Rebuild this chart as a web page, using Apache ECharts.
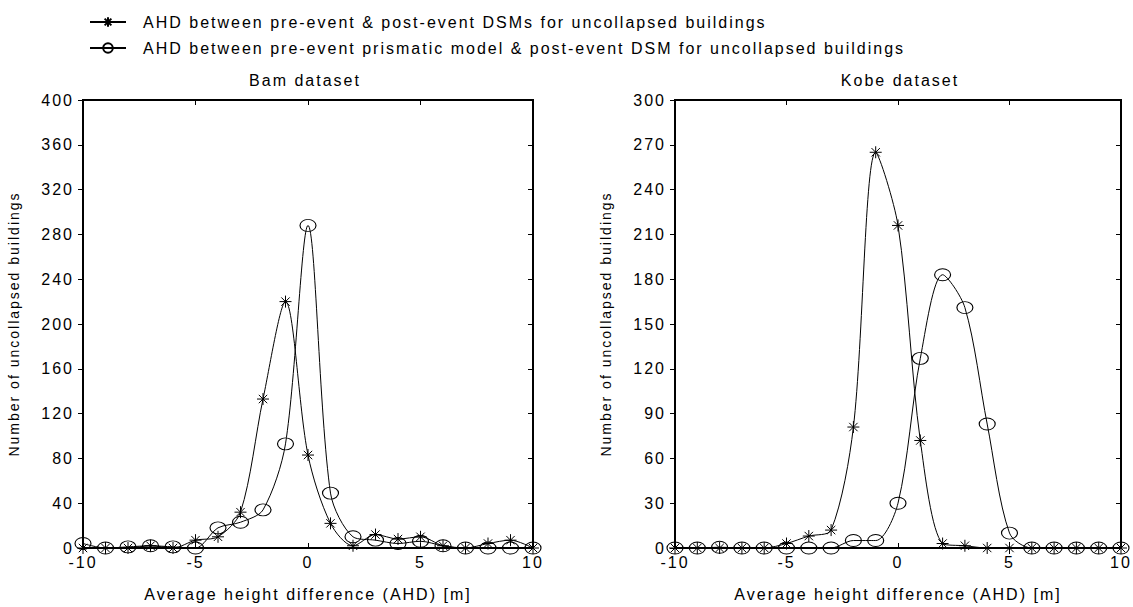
<!DOCTYPE html>
<html>
<head>
<meta charset="utf-8">
<script src="https://cdn.jsdelivr.net/npm/echarts@6/dist/echarts.min.js"></script>
<style>
html, body { margin: 0; padding: 0; background: #fff; }
#main { width: 1133px; height: 607px; }
#main text { letter-spacing: 2px; }
</style>
</head>
<body>
<div id="main"></div>
<script>
// AHD bins (m)
var ahd = [-10,-9,-8,-7,-6,-5,-4,-3,-2,-1,0,1,2,3,4,5,6,7,8,9,10];

// Bam dataset
var bamDsm   = [0,0,0,2,0,7,10,32,133,220,83,22,2,12,8,10,2,0,4,7,0];
var bamPrism = [4,0,1,2,1,0,18,23,34,93,288,49,10,7,4,6,2,0,0,0,0];

// Kobe dataset
var kobeDsm   = [0,0,0,0,0,3,8,12,81,265,216,72,3,1.5,0,0,0,0,0,0,0];
var kobePrism = [0,0,0.5,0,0,0,0,0,5,5,30,127,183,161,83,10,0,0,0,0,0];

var nameDsm = "AHD between pre-event & post-event DSMs for uncollapsed buildings";
var namePrism = "AHD between pre-event prismatic model & post-event DSM for uncollapsed buildings";

var FONT = "'Liberation Sans', Arial, sans-serif";
var starSym = "path://M0,-6L0,6M-6,0L6,0M-4.2,-4.2L4.2,4.2M-4.2,4.2L4.2,-4.2";
var ellSym = "path://M-8,0A8,6 0 1,0 8,0A8,6 0 1,0 -8,0Z";

function pairs(ys) {
    return ahd.map(function (x, i) { return [x, ys[i]]; });
}

function mkSeries(name, ys, idx, star) {
    return {
        name: name,
        type: "line",
        xAxisIndex: idx * 2,
        yAxisIndex: idx * 2,
        data: pairs(ys),
        smooth: 0.3,
        symbol: star ? starSym : ellSym,
        symbolSize: star ? [12, 12] : [16, 12],
        showAllSymbol: true,
        lineStyle: { color: "#000", width: 1 },
        itemStyle: { color: "rgba(0,0,0,0)", borderColor: "#000", borderWidth: 1 },
        emphasis: { disabled: true },
        z: star ? 3 : 2
    };
}

function mkX(grid, bottom) {
    return {
        type: "value", gridIndex: grid, min: -10, max: 10, interval: 5,
        position: bottom ? "bottom" : "top",
        name: bottom ? "Average height difference (AHD) [m]" : "",
        nameLocation: "middle", nameGap: 38,
        nameTextStyle: { color: "#000", fontSize: 16, fontFamily: FONT },
        axisLine: { show: true, onZero: false, lineStyle: { color: "#000", width: 2 } },
        axisTick: { show: true, inside: true, length: 5, lineStyle: { color: "#000" } },
        axisLabel: { show: bottom, color: "#000", fontSize: 16, fontFamily: FONT, margin: 6 },
        splitLine: { show: false }
    };
}

function mkY(grid, left, max, step) {
    return {
        type: "value", gridIndex: grid, min: 0, max: max, interval: step,
        position: left ? "left" : "right",
        name: left ? "Number of uncollapsed buildings" : "",
        nameLocation: "middle", nameGap: 62,
        nameTextStyle: { color: "#000", fontSize: 14, fontFamily: FONT },
        axisLine: { show: true, onZero: false, lineStyle: { color: "#000", width: 2 } },
        axisTick: { show: true, inside: !left, length: 5, lineStyle: { color: "#000" } },
        axisLabel: { show: left, color: "#000", fontSize: 16, fontFamily: FONT, margin: 9 },
        splitLine: { show: false }
    };
}

var chart = echarts.init(document.getElementById("main"), null, { renderer: "svg" });
chart.setOption({
    animation: false,
    backgroundColor: "#fff",
    title: [
        { text: "Bam dataset", left: 300, top: 67, textAlign: "center",
          textStyle: { fontSize: 16, fontWeight: "normal", color: "#000", fontFamily: FONT } },
        { text: "Kobe dataset", left: 895, top: 67, textAlign: "center",
          textStyle: { fontSize: 16, fontWeight: "normal", color: "#000", fontFamily: FONT } }
    ],
    legend: {
        orient: "vertical", left: 84, top: 9,
        itemWidth: 36, itemHeight: 12, itemGap: 10,
        data: [nameDsm, namePrism],
        textStyle: { color: "#000", fontSize: 16, fontFamily: FONT, padding: [0, 0, 0, 12] }
    },
    grid: [
        { left: 83, right: 600, top: 100, bottom: 50, show: true, borderColor: "#000", borderWidth: 2 },
        { left: 675, right: 12, top: 100, bottom: 50, show: true, borderColor: "#000", borderWidth: 2 }
    ],
    xAxis: [mkX(0, true), mkX(0, false), mkX(1, true), mkX(1, false)],
    yAxis: [mkY(0, true, 400, 40), mkY(0, false, 400, 40), mkY(1, true, 300, 30), mkY(1, false, 300, 30)],
    series: [
        mkSeries(nameDsm, bamDsm, 0, true),
        mkSeries(namePrism, bamPrism, 0, false),
        mkSeries(nameDsm, kobeDsm, 1, true),
        mkSeries(namePrism, kobePrism, 1, false)
    ]
});
</script>
</body>
</html>
